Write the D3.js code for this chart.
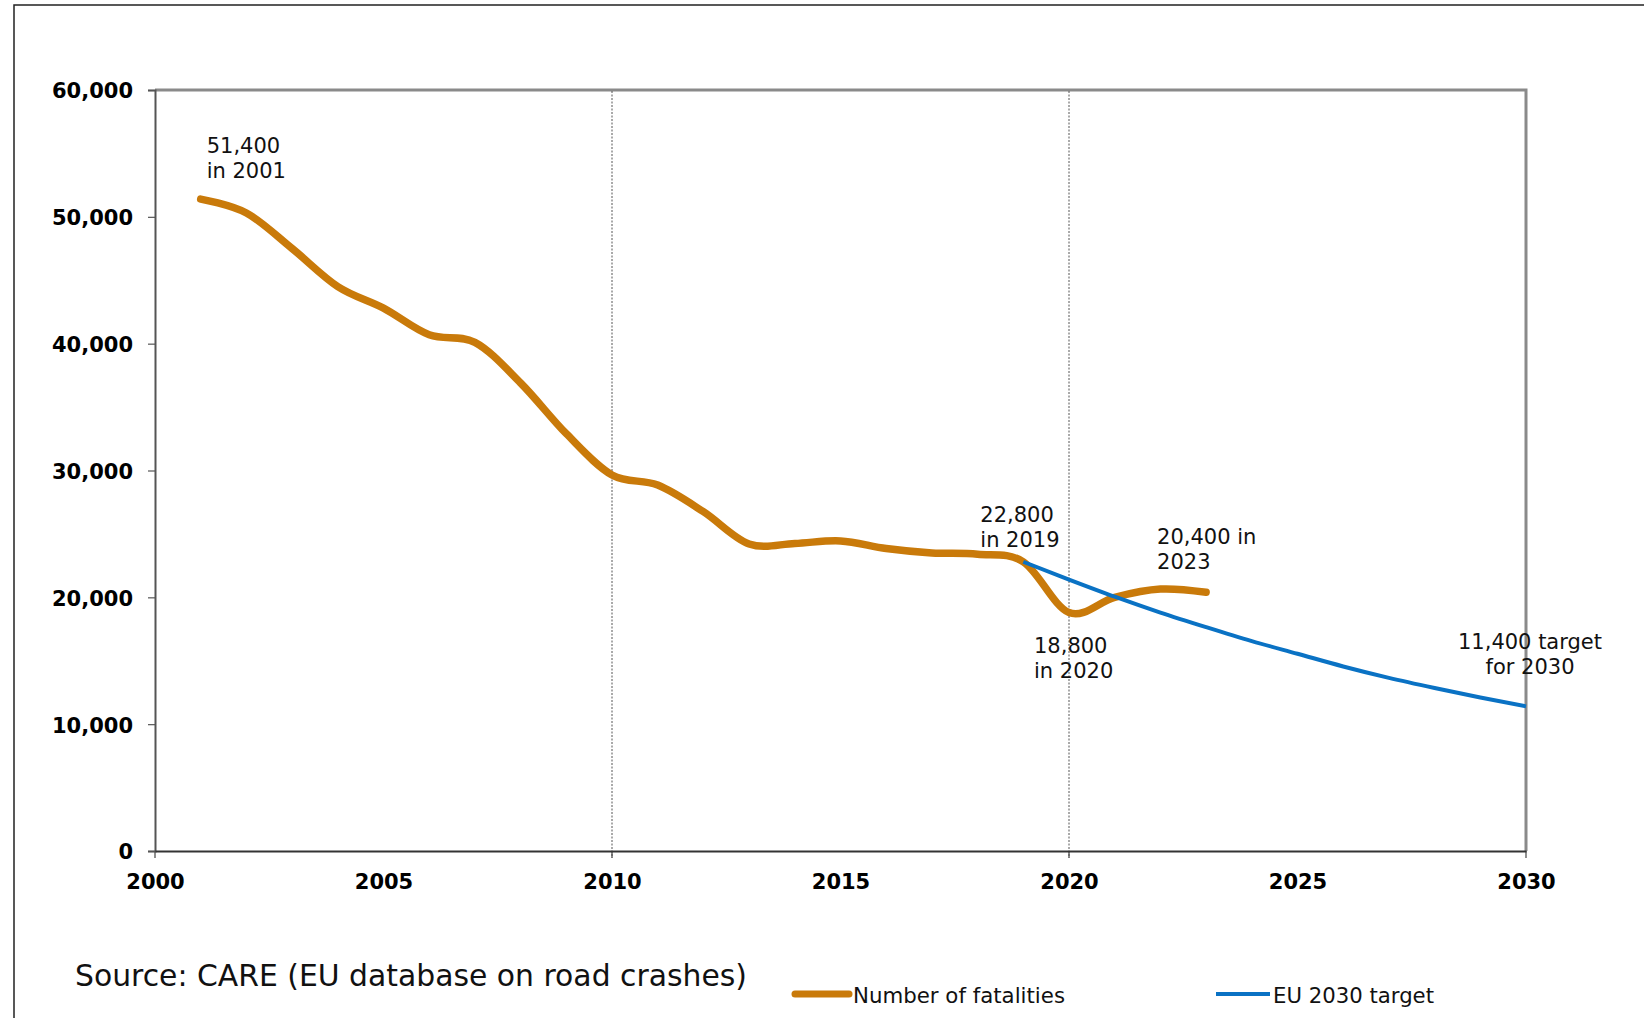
<!DOCTYPE html>
<html>
<head>
<meta charset="utf-8">
<script src="https://cdn.jsdelivr.net/npm/d3@7"></script>
<style>
  html, body { margin: 0; padding: 0; background: #fff; }
  svg { display: block; }
</style>
</head>
<body>
<svg id="chart" width="1644" height="1018"></svg>
<script>
// Road fatalities in the EU, 2001-2023, and the 2030 target path
const years = [2001, 2002, 2003, 2004, 2005, 2006, 2007, 2008, 2009, 2010, 2011, 2012,
               2013, 2014, 2015, 2016, 2017, 2018, 2019, 2020, 2021, 2022, 2023];
const fatalities = [51400, 50300, 47500, 44500, 42800, 40700, 40100, 36900, 32900, 29650, 28850, 26750,
                    24200, 24250, 24450, 23850, 23500, 23400, 22800, 18800, 20000, 20650, 20400];

const targetYears = [2019, 2020, 2021, 2022, 2023, 2024, 2025, 2026, 2027, 2028, 2029, 2030];
const targetValues = [22800, 21400, 20050, 18800, 17650, 16550, 15550, 14550, 13650, 12850, 12100, 11400];

const xTicks = [2000, 2005, 2010, 2015, 2020, 2025, 2030];
const xGrid = [2010, 2020];
const xMajor = [2000, 2010, 2020, 2030];
const yTicks = [0, 10000, 20000, 30000, 40000, 50000, 60000];

const seriesNames = ["Number of fatalities", "EU 2030 target"];
const sourceText = "Source: CARE (EU database on road crashes)";

const fmt = d3.format(",");

// Callouts: year, value, text lines
const callouts = [
  { year: 2001, value: 51400, lines: v => [fmt(v), "in 2001"] },
  { year: 2019, value: 22800, lines: v => [fmt(v), "in 2019"] },
  { year: 2023, value: 20400, lines: v => [fmt(v) + " in", "2023"] },
  { year: 2020, value: 18800, lines: v => [fmt(v), "in 2020"] },
  { year: 2030, value: 11400, lines: v => [fmt(v) + " target", "for 2030"] }
];
// Placement of each callout relative to its point
const calloutLayout = [
  { dx: 6, dy: -46, anchor: "start" },
  { dx: -43, dy: -40, anchor: "start" },
  { dx: -49, dy: -48, anchor: "start" },
  { dx: -35, dy: 40, anchor: "start" },
  { dx: 4, dy: -57, anchor: "middle" }
];

const ORANGE = "#C97A0A";
const BLUE = "#0A72C4";

const svg = d3.select("#chart");
svg.append("rect").attr("width", 1644).attr("height", 1018).attr("fill", "#fff");

// Outer frame of the figure (runs off the page on the right and bottom)
svg.append("path")
  .attr("d", "M14,1030 L14,5 L1660,5")
  .attr("fill", "none").attr("stroke", "#222").attr("stroke-width", 1.5);

const x = d3.scaleLinear().domain([2000, 2030]).range([155, 1526]);
const y = d3.scaleLinear().domain([0, 60000]).range([851, 90]);

// Plot frame: light top/right edges
svg.append("path")
  .attr("d", `M${x(2000)},${y(60000)} L${x(2030)},${y(60000)} L${x(2030)},${y(0)}`)
  .attr("fill", "none").attr("stroke", "#8a8a8a").attr("stroke-width", 3);

// Vertical dotted gridlines
svg.append("g").selectAll("line").data(xGrid).join("line")
  .attr("x1", d => x(d)).attr("x2", d => x(d))
  .attr("y1", y(60000) + 1).attr("y2", y(0) + 7)
  .attr("stroke", "#555").attr("stroke-width", 1).attr("stroke-dasharray", "2,1.5");

// Major x ticks below the axis
svg.append("g").selectAll("line").data(xMajor).join("line")
  .attr("x1", d => x(d)).attr("x2", d => x(d))
  .attr("y1", y(0)).attr("y2", y(0) + 7)
  .attr("stroke", "#444").attr("stroke-width", 1.2);

// Y axis
const yAxis = svg.append("g")
  .attr("transform", `translate(${x(2000)},0)`)
  .call(d3.axisLeft(y).tickValues(yTicks).tickFormat(fmt).tickSize(7).tickPadding(15));
yAxis.select(".domain").attr("stroke", "#555").attr("stroke-width", 2);
yAxis.selectAll(".tick line").attr("stroke", "#555").attr("stroke-width", 1.2);
yAxis.selectAll(".tick text")
  .attr("dy", "0.38em")
  .attr("fill", "#000")
  .style("font-family", "'DejaVu Sans', Verdana, sans-serif")
  .style("font-weight", "bold")
  .style("font-size", "21px");

// X axis
const xAxis = svg.append("g")
  .attr("transform", `translate(0,${y(0)})`)
  .call(d3.axisBottom(x).tickValues(xTicks).tickFormat(d3.format("d")).tickSize(0).tickPadding(23.5));
xAxis.select(".domain").attr("stroke", "#333").attr("stroke-width", 2);
xAxis.selectAll(".tick text")
  .attr("fill", "#000")
  .style("font-family", "'DejaVu Sans', Verdana, sans-serif")
  .style("font-weight", "bold")
  .style("font-size", "21px");

// Fatalities series (smoothed)
svg.append("path")
  .datum(years.map((yr, i) => [yr, fatalities[i]]))
  .attr("d", d3.line().x(d => x(d[0])).y(d => y(d[1])).curve(d3.curveCardinal.tension(0)))
  .attr("fill", "none").attr("stroke", ORANGE).attr("stroke-width", 7.5)
  .attr("stroke-linecap", "round").attr("stroke-linejoin", "round");

// Target path, drawn over the fatalities series
svg.append("path")
  .datum(targetYears.map((yr, i) => [yr, targetValues[i]]))
  .attr("d", d3.line().x(d => x(d[0])).y(d => y(d[1])).curve(d3.curveMonotoneX))
  .attr("fill", "none").attr("stroke", BLUE).attr("stroke-width", 4);

// Callouts
const cg = svg.append("g")
  .style("font-family", "'DejaVu Sans', Verdana, sans-serif")
  .style("font-size", "21px")
  .attr("fill", "#111");
callouts.forEach((c, i) => {
  const L = calloutLayout[i];
  const t = cg.append("text").attr("text-anchor", L.anchor);
  c.lines(c.value).forEach((s, j) => {
    t.append("tspan")
      .attr("x", x(c.year) + L.dx)
      .attr("y", y(c.value) + L.dy + j * 25)
      .text(s);
  });
});

// Source note
svg.append("text")
  .attr("x", 75).attr("y", 986)
  .attr("textLength", 672).attr("lengthAdjust", "spacingAndGlyphs")
  .style("font-family", "'DejaVu Sans', Tahoma, sans-serif")
  .style("font-size", "31px")
  .attr("fill", "#111")
  .text(sourceText);

// Legend
const legend = [
  { name: seriesNames[0], color: ORANGE, width: 7, x0: 795, x1: 849, tx: 853, tl: 212 },
  { name: seriesNames[1], color: BLUE, width: 4, x0: 1216, x1: 1270, tx: 1273, tl: 161 }
];
const lg = svg.append("g");
legend.forEach(l => {
  lg.append("line")
    .attr("x1", l.x0).attr("x2", l.x1).attr("y1", 994).attr("y2", 994)
    .attr("stroke", l.color).attr("stroke-width", l.width)
    .attr("stroke-linecap", l.width > 5 ? "round" : "butt");
  lg.append("text")
    .attr("x", l.tx).attr("y", 1003)
    .attr("textLength", l.tl).attr("lengthAdjust", "spacingAndGlyphs")
    .style("font-family", "'DejaVu Sans', Tahoma, sans-serif")
    .style("font-size", "22px")
    .attr("fill", "#111")
    .text(l.name);
});
</script>
</body>
</html>
